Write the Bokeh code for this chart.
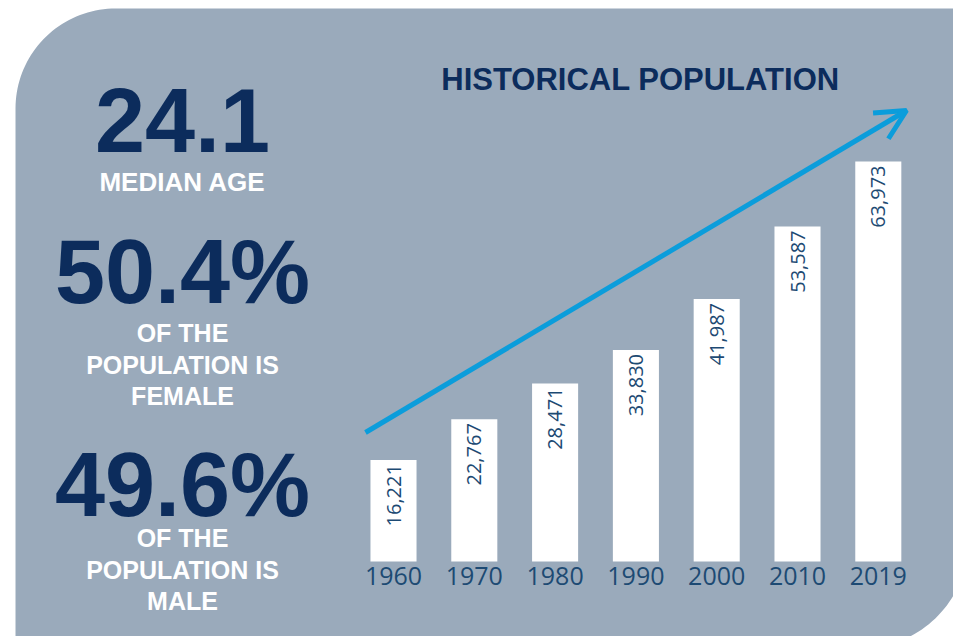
import numpy as np
from bokeh.plotting import figure
from bokeh.models import Range1d, Arrow, OpenHead, ColumnDataSource
from bokeh.core.properties import value
from bokeh.embed import file_html
from bokeh.resources import INLINE

# ---- data ----
years = ["1960", "1970", "1980", "1990", "2000", "2010", "2019"]
population = [16221, 22767, 28471, 33830, 41987, 53587, 63973]
title_text = "HISTORICAL POPULATION"
stat_values = ["24.1", "50.4%", "49.6%"]
stat_captions = [["MEDIAN AGE"],
                 ["OF THE", "POPULATION IS", "FEMALE"],
                 ["OF THE", "POPULATION IS", "MALE"]]

# ---- styles ----
BG = "#9aaabb"
NAVY = "#0c2c5c"
LABEL = "#1d4a73"
ARROW = "#0b9ddb"
W, H = 953, 636
BASE_FIX = 0.37  # baseline correction (fraction of font size)

# main ranges in page-pixel units (decorations / layout)
p = figure(width=W, height=H, x_range=Range1d(0, W), y_range=Range1d(H, 0),
           output_backend="svg", toolbar_location=None, min_border=0,
           x_axis_location=None, y_axis_location=None)
p.grid.visible = False
p.outline_line_color = None
p.background_fill_color = "white"
p.border_fill_color = "white"

# bar ranges: index positions and population values
bar_c0, bar_step = 393.0, 80.8
p.extra_x_ranges = {"bar": Range1d((0 - bar_c0) / bar_step, (W - bar_c0) / bar_step)}
base_y, px_per_unit = 561.0, 400.0 / 63973.0
p.extra_y_ranges = {"pop": Range1d(-(H - base_y) / px_per_unit, base_y / px_per_unit)}

# background rounded panel
t1 = np.linspace(np.pi, 1.5 * np.pi, 40)
t2 = np.linspace(0, 0.5 * np.pi, 40)
xs = ([15] + list(115 + 100 * np.cos(t1)) + [980, 980]
      + list(860 + 108 * np.cos(t2))[1:] + [15])
ys = ([660] + list(108 + 100 * np.sin(t1)) + [8, 540]
      + list(540 + 108 * np.sin(t2))[1:] + [660])
p.patch(xs, ys, fill_color=BG, line_color=None)

# bars
idx = list(range(len(years)))
src = ColumnDataSource(dict(x=idx, top=population, year=years,
                            lab=[f"{v:,}" for v in population]))
p.vbar(x="x", top="top", bottom=0, width=0.57, source=src, fill_color="white",
       line_color=None, x_range_name="bar", y_range_name="pop")
p.text(x="x", y="top", text="lab", source=src, angle=np.pi / 2, text_align="right",
       text_baseline="middle", y_offset=4, text_font=value("Open Sans"),
       text_font_size="20px", text_color=LABEL, x_range_name="bar", y_range_name="pop")
p.text(x="x", y=0, text="year", source=src, text_align="center", text_baseline="top",
       y_offset=5, text_font=value("Open Sans"), text_font_size="25px",
       text_color=LABEL, x_range_name="bar", y_range_name="pop")

# arrow
p.add_layout(Arrow(x_start=365, y_start=432, x_end=906, y_end=110,
                   line_color=ARROW, line_width=5,
                   end=OpenHead(size=30, line_width=5, line_color=ARROW)))


def btext(xv, yv, txt, size, color):
    p.text(x=xv, y=[y - BASE_FIX * size for y in yv], text=txt, text_align="center",
           text_baseline="alphabetic", text_font=value("Liberation Sans"),
           text_font_style="bold", text_font_size=f"{size}px", text_color=color)


# title
btext([640], [90], [title_text], 31, NAVY)

# left stats
cx = 182
stat_base = [153, 305, 518]
cap_base = [[191], [342, 374, 405], [547, 579, 610]]
for sv, sb, caps, cbs in zip(stat_values, stat_base, stat_captions, cap_base):
    btext([cx], [sb], [sv], 90, NAVY)
    btext([cx] * len(caps), cbs, caps, 26 if len(caps) == 1 else 25, "white")

open("out.html", "w").write(file_html(p, INLINE))
